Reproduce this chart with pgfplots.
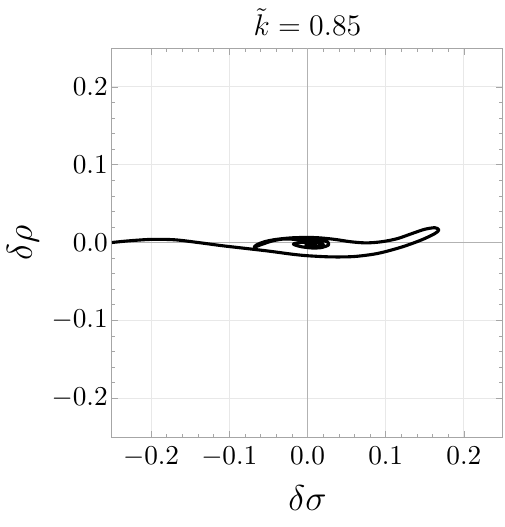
\documentclass[border=0pt]{standalone}
\usepackage{pgfplots}
\pgfplotsset{compat=1.18}
\begin{document}
\begin{tikzpicture}
\begin{axis}[
name=ax,
scale only axis,
width=156.4bp, height=155.6bp,
xmin=-0.25, xmax=0.25, ymin=-0.25, ymax=0.25,
xtick={-0.2,-0.1,0,0.1,0.2},
ytick={-0.2,-0.1,0,0.1,0.2},
minor tick num=4,
grid=major,
major grid style={gray!18, line width=0.4pt},
axis line style={gray!70},
tick style={gray!70},
tick align=inside,
major tick length=2.6bp,
minor tick length=1.4bp,
ticklabel style={font=\fontsize{11}{13}\selectfont},
xticklabel style={yshift=-0.5bp},
yticklabel style={xshift=1.8bp},
label style={font=\fontsize{13.5}{15}\selectfont},
xlabel style={at={(axis description cs:0.5,-0.157)}, anchor=center},
ylabel style={at={(axis description cs:-0.228,0.5)}, anchor=center},
every axis title shift=0pt,
title style={font=\fontsize{13}{15}\selectfont, at={(axis description cs:0.5,1.031)}, anchor=base},
/pgf/number format/.cd, fixed, fixed zerofill, precision=1,
/pgfplots/.cd,
title={$\tilde{k}=0.85$},
xlabel={$\delta\sigma$},
ylabel={$\delta\rho$},
]
\draw[gray!60, line width=0.4pt] (axis cs:0,-0.25) -- (axis cs:0,0.25);
\draw[gray!60, line width=0.4pt] (axis cs:-0.25,0) -- (axis cs:0.25,0);
\addplot [black, line width=1.25pt, line join=round, smooth, tension=0.5] coordinates {
(-0.25,0.000) (-0.23,0.002) (-0.20,0.004) (-0.17,0.0035) (-0.14,0.000)
(-0.11,-0.004) (-0.08,-0.0075) (-0.05,-0.011) (-0.02,-0.015) (0.00,-0.017)
(0.03,-0.0185) (0.06,-0.018) (0.09,-0.014) (0.12,-0.006) (0.145,0.003)
(0.162,0.011) (0.168,0.016) (0.163,0.019) (0.150,0.017) (0.135,0.012)
(0.115,0.005) (0.095,0.001) (0.075,-0.0005) (0.055,0.001) (0.035,0.004)
(0.015,0.006) (0.00,0.0065) (-0.02,0.006) (-0.04,0.004) (-0.055,0.001)
(-0.065,-0.003) (-0.068,-0.006) (-0.060,-0.003) (-0.045,0.002) (-0.030,0.0045)
(-0.015,0.004) (0.0,0.0035) (0.015,0.003) (0.025,0.001) (0.027,-0.003)
(0.018,-0.0065) (0.005,-0.007) (-0.010,-0.005) (-0.018,-0.002) (-0.010,0.000)
(0.005,0.0005) (0.018,-0.001) (0.020,-0.004) (0.008,-0.005) (-0.002,-0.003)
(0.006,-0.002) (0.012,-0.0025)
};
\end{axis}
\pgfresetboundingbox
\path (ax.south west) ++(-44.8bp,-36bp) rectangle ++(202bp,210.8bp);
\end{tikzpicture}
\end{document}
